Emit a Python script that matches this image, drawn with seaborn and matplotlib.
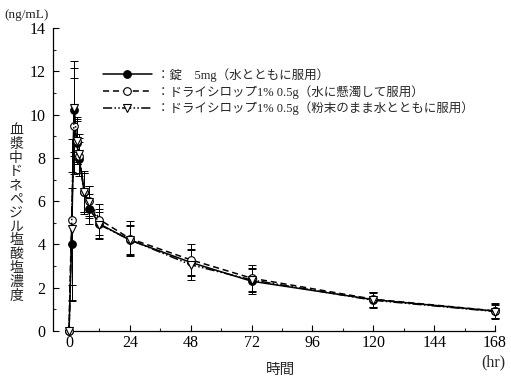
import matplotlib
matplotlib.use('Agg')
import matplotlib.pyplot as plt
import seaborn as sns
import pandas as pd
from matplotlib.ticker import MultipleLocator

# time points (hr)
hours = [0, 1, 2, 3, 4, 6, 8, 12, 24, 48, 72, 120, 168]

# tablet 5mg
tab_mean = [0, 4.0, 10.2, 8.7, 7.95, 6.4, 5.65, 4.95, 4.2, 3.17, 2.3, 1.45, 0.92]
tab_sd = [0, 2.6, 1.95, 1.0, 0.8, 0.9, 0.7, 0.7, 0.7, 0.6, 0.6, 0.33, 0.3]

# dry syrup, suspended in water
sus_mean = [0, 5.15, 9.47, 8.8, 8.1, 6.41, 6.0, 5.15, 4.27, 3.29, 2.44, 1.47, 0.93]
sus_sd = [0, 3.7, 2.2, 1.0, 0.8, 1.0, 0.7, 0.7, 0.8, 0.74, 0.62, 0.35, 0.35]

# dry syrup, powder with water
pow_mean = [0, 4.73, 10.29, 8.8, 8.2, 6.4, 5.95, 4.91, 4.22, 3.06, 2.36, 1.42, 0.9]
pow_sd = [0, 2.6, 2.2, 1.1, 0.9, 0.9, 0.75, 0.6, 0.65, 0.69, 0.5, 0.35, 0.33]

labels = [
    '：錠　5mg（水とともに服用）',
    '：ドライシロップ1% 0.5g（水に懸濁して服用）',
    '：ドライシロップ1% 0.5g（粉末のまま水とともに服用）',
]
ylabel = '血漿中ドネペジル塩酸塩濃度'

sns.set_style('ticks')
plt.rcParams['font.family'] = ['Liberation Serif', 'Noto Sans CJK JP']

fig = plt.figure(figsize=(5.11, 3.83), dpi=100)
ax = fig.add_axes([66.5 / 511, 1 - 331 / 383, 428.5 / 511, 303 / 383])

series = [
    (tab_mean, tab_sd, 'o', 'black', (None, None)),
    (sus_mean, sus_sd, 'o', 'white', (4, 2.5)),
    (pow_mean, pow_sd, 'v', 'white', (6, 1.5, 1, 1.5, 1, 1.5)),
]

frames = []
for lab, (m, s, *_rest) in zip(labels, series):
    frames.append(pd.DataFrame({'hr': hours, 'conc': m, 'sd': s, 'group': lab}))
df = pd.concat(frames, ignore_index=True)

handles = []
for lab, (m, s, mk, fc, dash) in zip(labels, series):
    sub = df[df['group'] == lab]
    ax.errorbar(sub['hr'], sub['conc'], yerr=sub['sd'], fmt='none',
                ecolor='black', elinewidth=0.7, capsize=3, capthick=0.7,
                clip_on=False, zorder=2)
    sns.lineplot(data=sub, x='hr', y='conc', ax=ax, color='black',
                 linewidth=1.1, marker=mk, markersize=5.5,
                 markerfacecolor=fc, markeredgecolor='black',
                 markeredgewidth=0.8, clip_on=False, zorder=3,
                 errorbar=None, legend=False)
    line = ax.get_lines()[-1]
    if dash[0] is not None:
        line.set_dashes(dash)
    handles.append(line)

ax.set_xlim(-1, 168)
ax.set_ylim(0, 14)
ax.set_xticks([0, 24, 48, 72, 96, 120, 144, 168])
ax.xaxis.set_minor_locator(MultipleLocator(12))
ax.yaxis.set_major_locator(MultipleLocator(2))
ax.yaxis.set_minor_locator(MultipleLocator(1))
ax.tick_params(which='major', direction='in', length=4, width=0.8,
               labelsize=11.5, color='black', labelcolor='black')
ax.tick_params(which='minor', direction='in', length=2.5, width=0.8)
ax.tick_params(axis='y', pad=5)
ax.tick_params(axis='x', pad=3)
ax.set_xlabel('')
ax.set_ylabel('')

sns.despine(ax=ax)
ax.spines['left'].set_position(('outward', 10))
for sp in ['left', 'bottom']:
    ax.spines[sp].set_linewidth(0.9)
    ax.spines[sp].set_color('black')

fig.legend(handles=handles, labels=labels, loc='upper left',
           bbox_to_anchor=(103 / 511, 1 - 68 / 383), frameon=False,
           fontsize=9, handlelength=3.9, handletextpad=0.4,
           borderpad=0, borderaxespad=0, labelspacing=0.25)

fig.text(27 / 511, 1 - 15 / 383, '(ng/mL)', ha='center', va='center', fontsize=9.5)
fig.text(493 / 511, 1 - 362 / 383, '(hr)', ha='center', va='center', fontsize=11.5)
fig.text(281 / 511, 1 - 370 / 383, '時間', ha='center', va='center',
         fontsize=10.5, family='Noto Sans CJK JP')

# vertical label, one character per row
for i, ch in enumerate(ylabel):
    fig.text(16 / 511, 1 - (130 + i * 13.8) / 383, ch, ha='center', va='center',
             fontsize=10, family='Noto Sans CJK JP')

fig.savefig('out.png', dpi=100)
